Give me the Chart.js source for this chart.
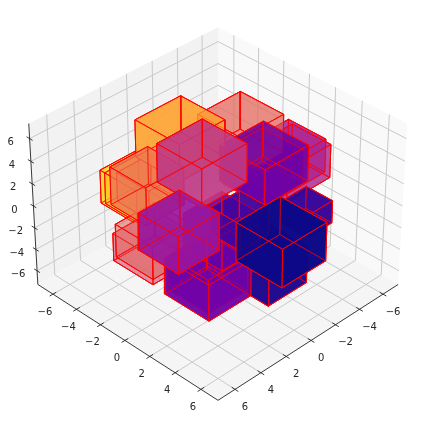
<!DOCTYPE html>
<html>
<head>
<meta charset="utf-8">
<style>body{margin:0;background:#fff}canvas{display:block}</style>
<script src="https://cdn.jsdelivr.net/npm/chart.js@4"></script>
</head>
<body>
<canvas id="voxels" width="423" height="421"></canvas>
<script>
// box centres, sizes and colour values
var boxX  = [-3.05, -0.25, -4.7, -4.7, -2.97, -2.98, 2.0, 2.2, 2.4, 2.15, 0.97, 3.2, 3.3, -3.1, 0.0, -0.83, 2.35, -0.2, 4.25, 2.2, 0.8];
var boxY  = [-1.25, -3.25, 1.0, 0.7, 0.68, 0.58, -4.7, -4.2, -3.2, -3.25, -0.27, -1.9, -1.8, 3.9, 1.7, 3.12, 1.55, 4.7, 1.25, 1.4, 1.1];
var boxZ  = [3.8, 3.85, 1.5, 1.8, 2.4, 2.0, 0.0, 0.3, 1.3, 1.0, 4.3, -2.3, -2.75, 0.0, -0.2, -3.8, -3.85, -0.22, 1.35, -3.7, -1.0];
var boxDx = [3.4, 3.55, 3.6, 3.5, 3.5, 3.2, 2.7, 2.6, 2.9, 2.6, 3.5, 3.0, 3.2, 2.0, 2.3, 3.1, 3.3, 3.5, 3.1, 3.1, 3.0];
var boxDy = [3.4, 3.55, 3.0, 2.9, 3.5, 3.2, 2.7, 2.6, 2.9, 2.6, 3.5, 3.0, 3.2, 2.0, 2.3, 3.1, 3.5, 3.5, 3.1, 3.2, 3.0];
var boxDz = [3.4, 3.3, 3.0, 3.0, 3.2, 3.0, 3.0, 2.8, 3.4, 2.6, 3.4, 3.0, 2.5, 2.0, 2.4, 3.4, 3.3, 3.45, 3.3, 3.1, 3.2];
var boxValue = [0.62, 0.8, 0.4, 0.35, 0.2, 0.22, 0.92, 0.88, 0.66, 0.7, 0.45, 0.62, 0.55, 0.08, 0.1, 0.03, 0.22, 0.0, 0.33, 0.2, 0.18];
var boxOpacity = [0.5, 0.75, 0.6, 0.6, 0.75, 0.75, 0.7, 0.7, 0.75, 0.6, 0.7, 0.35, 0.4, 0.85, 0.8, 0.85, 0.8, 0.88, 0.72, 0.7, 0.7];
var tickValues = [-6, -4, -2, 0, 2, 4, 6];
var axisLimit = 7.3;

var plasma = [[13,8,135],[65,4,157],[106,0,168],[143,13,164],[177,42,144],[204,71,120],[225,100,98],[242,132,75],[252,166,54],[252,206,37],[240,249,33]];

function colour(v, alpha) {
    var i = Math.min(Math.floor(v * 10), 9), t = v * 10 - i;
    var c = plasma[i].map(function (a, k) { return Math.round(a + (plasma[i + 1][k] - a) * t); });
    return "rgba(" + c[0] + "," + c[1] + "," + c[2] + "," + alpha + ")";
}

// same camera as the reference: elev 35, azim 45
var el = 35 * Math.PI / 180, az = 45 * Math.PI / 180, dist = 10;
var w = [Math.cos(el) * Math.cos(az), Math.cos(el) * Math.sin(az), Math.sin(el)];
var u = [-Math.sin(az), Math.cos(az), 0];
var v = [-Math.sin(el) * Math.cos(az), -Math.sin(el) * Math.sin(az), Math.cos(el)];
var aspect = [1.14, 1.14, 0.857];

function box(p) {
    return p.map(function (a, k) { return a / (2 * axisLimit) * aspect[k]; });
}
function dot(a, b) { return a[0] * b[0] + a[1] * b[1] + a[2] * b[2]; }
function depth(p) { return dot(box(p), w); }
function project(p) {
    var b = box(p), f = dist / (dist - dot(b, w));
    return { x: dot(b, u) * f, y: dot(b, v) * f };
}

var datasets = [];
function addPoly(points, fillColour, lineColour, lineWidth) {
    datasets.push({
        data: points.map(project),
        showLine: true,
        pointRadius: 0,
        tension: 0,
        fill: fillColour ? "shape" : false,
        backgroundColor: fillColour || "transparent",
        borderColor: lineColour || "transparent",
        borderWidth: lineWidth || 0
    });
}

var L = axisLimit;
// panes
addPoly([[-L,-L,-L],[-L,L,-L],[-L,L,L],[-L,-L,L],[-L,-L,-L]], "#f9f9f9");
addPoly([[-L,-L,-L],[L,-L,-L],[L,-L,L],[-L,-L,L],[-L,-L,-L]], "#f2f2f2");
addPoly([[-L,-L,-L],[L,-L,-L],[L,L,-L],[-L,L,-L],[-L,-L,-L]], "#f5f5f5");

// grid
tickValues.forEach(function (t) {
    addPoly([[t,L,-L],[t,-L,-L],[t,-L,L]], null, "#c9c9c9", 1);
    addPoly([[L,t,-L],[-L,t,-L],[-L,t,L]], null, "#c9c9c9", 1);
    addPoly([[L,-L,t],[-L,-L,t],[-L,L,t]], null, "#c9c9c9", 1);
});

// axis lines and tick marks
addPoly([[L,-L,L],[L,-L,-L],[L,L,-L],[-L,L,-L]], null, "#222222", 0.9);
tickValues.forEach(function (t) {
    addPoly([[L-0.25,t,-L],[L+0.25,t,-L]], null, "#222222", 0.9);
    addPoly([[t,L-0.25,-L],[t,L+0.25,-L]], null, "#222222", 0.9);
    addPoly([[L,-L-0.25,t],[L,-L+0.25,t]], null, "#222222", 0.9);
});

// every face of every box, far faces first
var faces = [];
boxX.forEach(function (cx, i) {
    var x0 = cx - boxDx[i] / 2, x1 = cx + boxDx[i] / 2;
    var y0 = boxY[i] - boxDy[i] / 2, y1 = boxY[i] + boxDy[i] / 2;
    var z0 = boxZ[i] - boxDz[i] / 2, z1 = boxZ[i] + boxDz[i] / 2;
    [
        [[x0,y0,z0],[x1,y0,z0],[x1,y1,z0],[x0,y1,z0]],
        [[x0,y0,z1],[x1,y0,z1],[x1,y1,z1],[x0,y1,z1]],
        [[x0,y0,z0],[x1,y0,z0],[x1,y0,z1],[x0,y0,z1]],
        [[x0,y1,z0],[x1,y1,z0],[x1,y1,z1],[x0,y1,z1]],
        [[x0,y0,z0],[x0,y1,z0],[x0,y1,z1],[x0,y0,z1]],
        [[x1,y0,z0],[x1,y1,z0],[x1,y1,z1],[x1,y0,z1]]
    ].forEach(function (f) {
        var c = [0, 1, 2].map(function (k) { return (f[0][k] + f[1][k] + f[2][k] + f[3][k]) / 4; });
        faces.push({ pts: f, d: depth(c), box: i });
    });
});
faces.sort(function (a, b) { return a.d - b.d; });

// the hidden edges of a box still show through its own faces,
// so they are stroked again once the nearest face of that box is down
var seen = boxX.map(function () { return []; });
faces.forEach(function (f) {
    var i = f.box;
    addPoly(f.pts.concat([f.pts[0]]), colour(boxValue[i], boxOpacity[i]), "#ff0000", 1);
    seen[i].push(f);
    if (seen[i].length === 6) {
        seen[i].slice(0, 3).forEach(function (b) {
            addPoly(b.pts.concat([b.pts[0]]), null, "rgba(255,0,0,0.5)", 1);
        });
    }
});

datasets.forEach(function (d, i) { d.order = datasets.length - i; });

var tickText = {
    id: "tickText",
    afterDraw: function (chart) {
        var ctx = chart.ctx, sx = chart.scales.x, sy = chart.scales.y;
        function label(p, t, dx, dy) {
            var q = project(p);
            ctx.fillText(String(t).replace("-", "\u2212"), sx.getPixelForValue(q.x) + dx, sy.getPixelForValue(q.y) + dy);
        }
        ctx.save();
        ctx.font = "10px 'DejaVu Sans'";
        ctx.fillStyle = "#262626";
        ctx.textAlign = "center";
        ctx.textBaseline = "middle";
        tickValues.forEach(function (t) {
            label([L, t, -L], t, -8, 18);
            label([t, L, -L], t, 10, 18);
            label([L, -L, t], t, -19, 4);
        });
        ctx.restore();
    }
};

var S = 229;
new Chart(document.getElementById("voxels").getContext("2d"), {
    type: "scatter",
    data: { datasets: datasets },
    options: {
        responsive: false,
        animation: false,
        layout: { padding: 0 },
        plugins: { legend: { display: false }, tooltip: { enabled: false } },
        scales: {
            x: { display: false, min: -218 / S, max: 205 / S },
            y: { display: false, min: -215 / S, max: 206 / S }
        }
    },
    plugins: [tickText]
});
</script>
</body>
</html>
